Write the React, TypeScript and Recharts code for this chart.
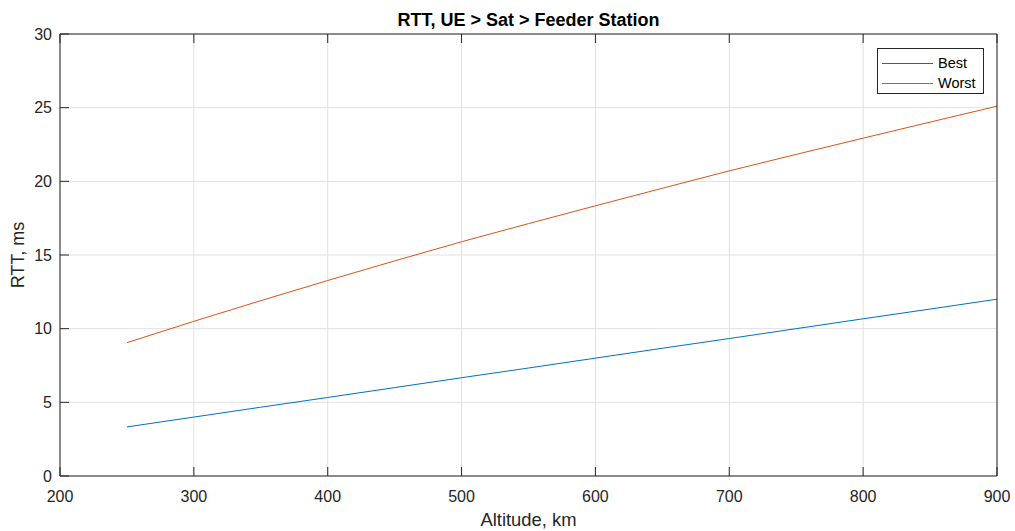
import { CartesianGrid, Legend, Line, LineChart, XAxis, YAxis } from "recharts";

const altitudes = [250, 300, 350, 400, 450, 500, 550, 600, 650, 700, 750, 800, 850, 900];
const bestRtt = [3.33, 4.0, 4.67, 5.33, 6.0, 6.67, 7.33, 8.0, 8.67, 9.33, 10.0, 10.67, 11.33, 12.0];
const worstRtt = [9.05, 10.5, 11.9, 13.27, 14.6, 15.9, 17.13, 18.34, 19.53, 20.71, 21.83, 22.93, 24.02, 25.1];

const xTicks = [200, 300, 400, 500, 600, 700, 800, 900];
const yTicks = [0, 5, 10, 15, 20, 25, 30];

const data = altitudes.map((alt, i) => ({ alt, best: bestRtt[i], worst: worstRtt[i] }));

const FONT = '"Liberation Sans", Arial, sans-serif';
const INK = "#262626";
const TICK = 9;

// plot box edges (matlab-like inward ticks are drawn from these)
const TOP = 34;
const BOTTOM = 476;
const LEFT = 60;
const RIGHT = 997;

const BottomTick = (p: any) => (
  <g>
    <line x1={p.x} x2={p.x} y1={BOTTOM} y2={BOTTOM - TICK} stroke={INK} />
    <text x={p.x} y={502} textAnchor="middle" fontSize={16} fill={INK}>
      {p.payload.value}
    </text>
  </g>
);

const TopTick = (p: any) => <line x1={p.x} x2={p.x} y1={TOP} y2={TOP + TICK} stroke={INK} />;

const LeftTick = (p: any) => (
  <g>
    <line x1={LEFT} x2={LEFT + TICK} y1={p.y} y2={p.y} stroke={INK} />
    <text x={52} y={p.y} dy="0.36em" textAnchor="end" fontSize={16} fill={INK}>
      {p.payload.value}
    </text>
  </g>
);

const RightTick = (p: any) => <line x1={RIGHT} x2={RIGHT - TICK} y1={p.y} y2={p.y} stroke={INK} />;

const renderLegend = (props: any) => (
  <div
    style={{
      width: 107,
      height: 46,
      boxSizing: "border-box",
      border: `1px solid ${INK}`,
      background: "#fff",
      paddingTop: 4,
      fontFamily: FONT,
      fontSize: 14.5,
      color: "#000",
    }}
  >
    {(props.payload || []).map((p: any) => (
      <div key={p.value} style={{ display: "flex", alignItems: "center", height: 20 }}>
        <div style={{ width: 51, height: 1, background: p.color, marginLeft: 4, marginRight: 5 }} />
        <span>{p.value}</span>
      </div>
    ))}
  </div>
);

export default function App() {
  return (
    <div style={{ position: "absolute", left: 0, top: 0, width: 1015, height: 531, background: "#fff" }}>
      <LineChart
        width={1015}
        height={531}
        data={data}
        margin={{ top: 0, right: 0, bottom: 0, left: 0 }}
        style={{ fontFamily: FONT }}
      >
        <CartesianGrid stroke="#e1e1e1" strokeWidth={1} />
        <XAxis
          dataKey="alt"
          type="number"
          domain={[200, 900]}
          ticks={xTicks}
          height={55}
          stroke={INK}
          tickLine={false}
          tick={BottomTick}
        />
        <XAxis
          xAxisId="top"
          orientation="top"
          dataKey="alt"
          type="number"
          domain={[200, 900]}
          ticks={xTicks}
          height={34}
          stroke={INK}
          tickLine={false}
          tick={TopTick}
        />
        <YAxis
          type="number"
          domain={[0, 30]}
          ticks={yTicks}
          width={60}
          stroke={INK}
          tickLine={false}
          tick={LeftTick}
        />
        <YAxis
          yAxisId="right"
          orientation="right"
          type="number"
          domain={[0, 30]}
          ticks={yTicks}
          width={18}
          stroke={INK}
          tickLine={false}
          tick={RightTick}
        />
        <Line
          name="Best"
          dataKey="best"
          stroke="#0072BD"
          strokeWidth={1}
          dot={false}
          type="linear"
          isAnimationActive={false}
        />
        <Line
          name="Worst"
          dataKey="worst"
          stroke="#D95319"
          strokeWidth={1}
          dot={false}
          type="linear"
          isAnimationActive={false}
        />
        <Legend
          layout="horizontal"
          verticalAlign="middle"
          align="center"
          content={renderLegend}
          wrapperStyle={{ top: 48, left: 877, width: 107, height: 46 }}
        />
        <text x={528.5} y={26} textAnchor="middle" fontSize={18} fontWeight="bold" fill="#000">
          RTT, UE &gt; Sat &gt; Feeder Station
        </text>
        <text x={528.5} y={526} textAnchor="middle" fontSize={18.4} fill={INK}>
          Altitude, km
        </text>
        <text
          x={0}
          y={0}
          transform="translate(24 255) rotate(-90)"
          textAnchor="middle"
          fontSize={18}
          fill={INK}
        >
          RTT, ms
        </text>
      </LineChart>
    </div>
  );
}
